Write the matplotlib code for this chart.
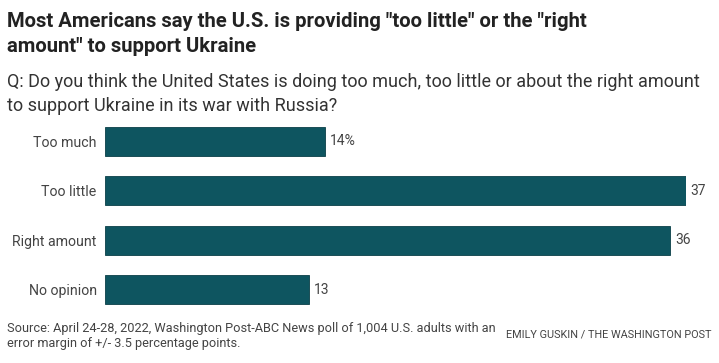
import matplotlib.pyplot as plt
from matplotlib import font_manager as fm

# Data
categories = ['Too much', 'Too little', 'Right amount', 'No opinion']
values = [14, 37, 36, 13]
value_labels = ['14%', '37', '36', '13']

names = {f.name for f in fm.fontManager.ttflist}
narrow = 'Liberation Sans Narrow' if 'Liberation Sans Narrow' in names else 'Roboto'
plt.rcParams['font.family'] = [narrow, 'DejaVu Sans']

W, H = 719, 363
fig = plt.figure(figsize=(W / 100, H / 100), dpi=100)

# axes placed in pixel terms
left, right = 105, 686
top, bottom = 116.8, 314.2
ax = fig.add_axes([left / W, 1 - bottom / H, (right - left) / W, (bottom - top) / H])

bar_color = '#0e5560'
ax.barh(range(len(values)), values, height=0.59, color=bar_color,
        edgecolor='#0a3f47', linewidth=0.6)
ax.set_xlim(0, 37)
ax.set_ylim(len(values) - 0.5, -0.5)

for i, (v, lab) in enumerate(zip(values, value_labels)):
    ax.text(v + 0.3, i, lab, va='center', ha='left', fontsize=10,
            color='#444444', clip_on=False)

ax.set_yticks(range(len(categories)))
ax.set_yticklabels(categories, fontsize=10.2, color='#444444')
ax.tick_params(axis='y', length=0, pad=6)
ax.set_xticks([])
for s in ax.spines.values():
    s.set_visible(False)

# Titles
fig.text(7 / W, 1 - 12 / H, 'Most Americans say the U.S. is providing "too little" or the "right\namount" to support Ukraine',
         ha='left', va='top', fontsize=14.6, fontweight='bold', color='#222222',
         linespacing=1.42)
fig.text(7 / W, 1 - 73 / H, 'Q: Do you think the United States is doing too much, too little or about the right amount\nto support Ukraine in its war with Russia?',
         ha='left', va='top', fontsize=13, color='#333333', linespacing=1.45)

# Footer
fig.text(7 / W, 1 - 322 / H, 'Source: April 24-28, 2022, Washington Post-ABC News poll of 1,004 U.S. adults with an\nerror margin of +/- 3.5 percentage points.',
         ha='left', va='top', fontsize=9.2, color='#444444', linespacing=1.2)
fig.text(712 / W, 1 - 329 / H, 'EMILY GUSKIN / THE WASHINGTON POST',
         ha='right', va='top', fontsize=7.8, color='#444444')

fig.savefig('out.png', dpi=100, facecolor='white')
